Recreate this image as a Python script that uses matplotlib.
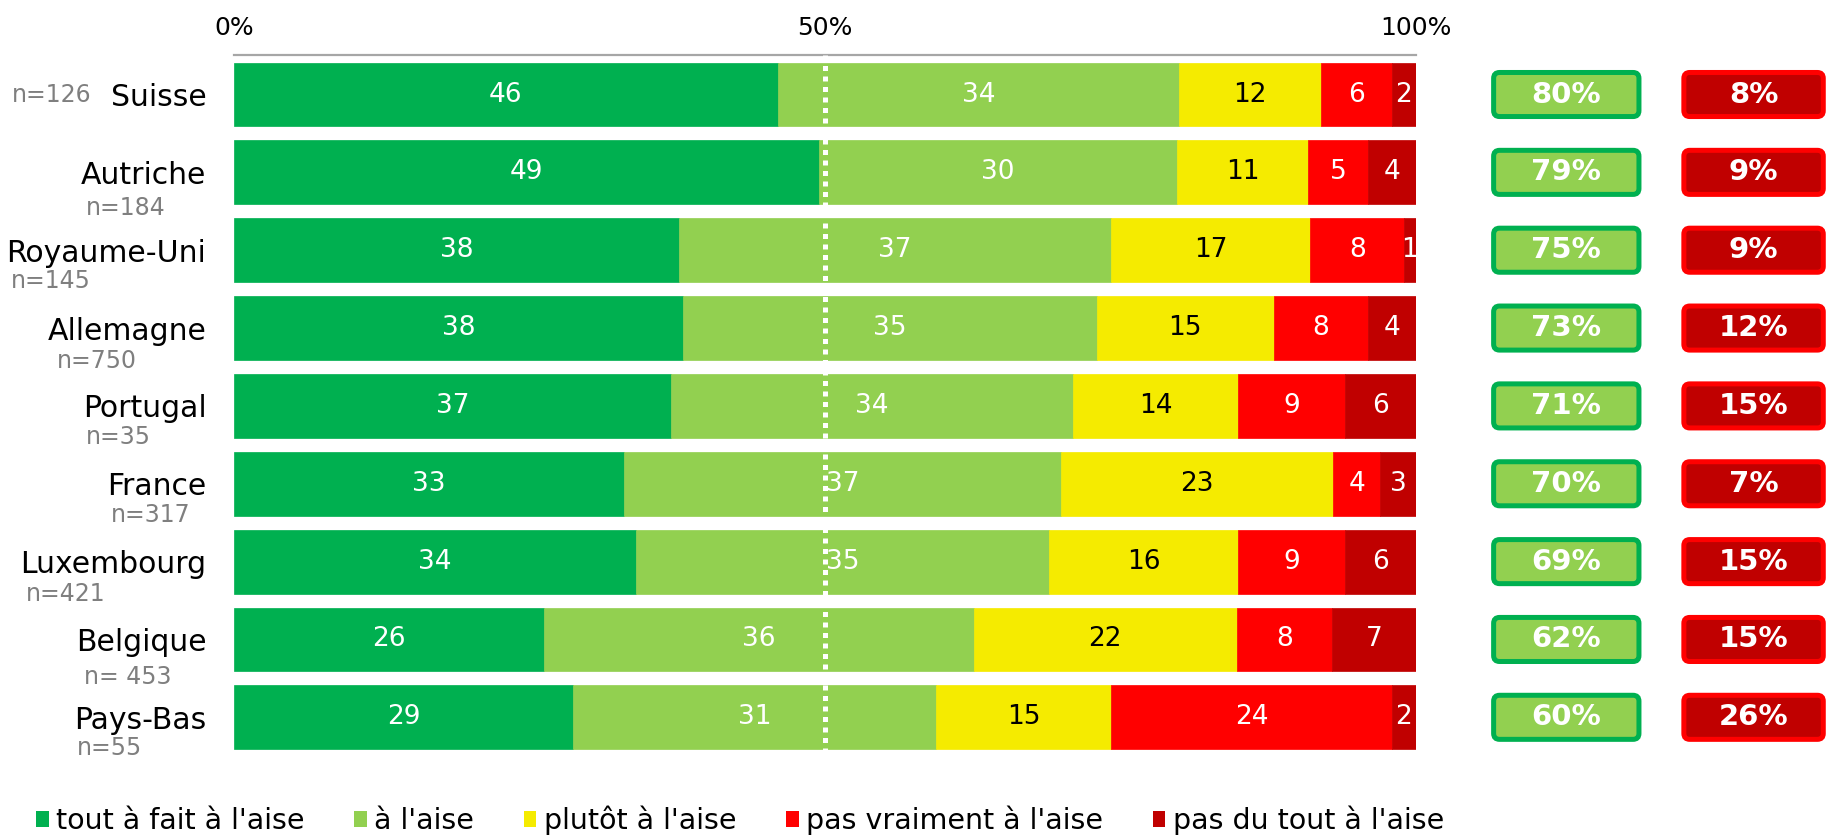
import matplotlib.pyplot as plt
from matplotlib.patches import FancyBboxPatch, Patch
from matplotlib.transforms import blended_transform_factory

plt.rcParams['font.family'] = ['DejaVu Sans Condensed', 'DejaVu Sans']

countries = ['Suisse', 'Autriche', 'Royaume-Uni', 'Allemagne', 'Portugal',
             'France', 'Luxembourg', 'Belgique', 'Pays-Bas']
sample_sizes = ['n=126', 'n=184', 'n=145', 'n=750', 'n=35',
                'n=317', 'n=421', 'n= 453', 'n=55']
categories = ["tout à fait à l'aise", "à l'aise", "plutôt à l'aise",
              "pas vraiment à l'aise", "pas du tout à l'aise"]

tout_a_fait = [46, 49, 38, 38, 37, 33, 34, 26, 29]
a_l_aise = [34, 30, 37, 35, 34, 37, 35, 36, 31]
plutot = [12, 11, 17, 15, 14, 23, 16, 22, 15]
pas_vraiment = [6, 5, 8, 8, 9, 4, 9, 8, 24]
pas_du_tout = [2, 4, 1, 4, 6, 3, 6, 7, 2]

top2 = [80, 79, 75, 73, 71, 70, 69, 62, 60]
bottom2 = [8, 9, 9, 12, 15, 7, 15, 15, 26]

colors = ['#00B050', '#92D050', '#F5EB00', '#FF0000', '#C00000']
text_colors = ['white', 'white', 'black', 'white', 'white']

# where the n= labels sit (figure x fraction, y shift in bar units)
n_x = [0.0065, 0.047, 0.006, 0.031, 0.047, 0.0605, 0.014, 0.046, 0.042]
n_dy = [0.0, 0.46, 0.40, 0.42, 0.40, 0.40, 0.42, 0.48, 0.40]

series = [tout_a_fait, a_l_aise, plutot, pas_vraiment, pas_du_tout]

fig = plt.figure(figsize=(18.29, 8.38), dpi=100)
ax = fig.add_axes([0.128, 0.105, 0.646, 0.8296])

y = list(range(len(countries)))
totals = [sum(s[i] for s in series) for i in y]
left = [0.0] * len(countries)
for vals, col, tcol in zip(series, colors, text_colors):
    widths = [v / t * 100 for v, t in zip(vals, totals)]
    ax.barh(y, widths, left=left, height=0.82, color=col, edgecolor=col, lw=0.5)
    for i in y:
        ax.text(left[i] + widths[i] / 2, i, str(vals[i]), ha='center', va='center',
                color=tcol, fontsize=19)
    left = [l + w for l, w in zip(left, widths)]

ax.set_xlim(0, 100)
ax.set_ylim(8.42, -0.51)
for s in ax.spines.values():
    s.set_visible(False)

ax.plot([0, 100], [-0.51, -0.51], color='#A6A6A6', lw=1.6, clip_on=False, zorder=3)
ax.plot([50, 50], [-0.51, 8.42], color='white', lw=3.6, linestyle=(0, (1, 1.1)),
        dash_capstyle='butt', clip_on=False, zorder=4)

ax.xaxis.tick_top()
ax.set_xticks([0, 50, 100], ['0%', '50%', '100%'])
ax.tick_params(axis='x', length=0, pad=11, labelsize=18)
ax.set_yticks(y, countries)
ax.tick_params(axis='y', length=0, pad=20, labelsize=21.5)

trans = blended_transform_factory(fig.transFigure, ax.transData)
for i in y:
    ax.text(n_x[i], i + n_dy[i], sample_sizes[i], transform=trans, ha='left',
            va='center', color='#7F7F7F', fontsize=17)

# summary boxes on the right
asp = 0.152
for i in y:
    g = FancyBboxPatch((106.6, i - 0.283), 12.3, 0.566,
                       boxstyle='round,pad=0,rounding_size=0.5', mutation_aspect=asp,
                       fc='#92D050', ec='#00B050', lw=3.6, clip_on=False)
    r = FancyBboxPatch((122.7, i - 0.283), 11.8, 0.566,
                       boxstyle='round,pad=0,rounding_size=0.5', mutation_aspect=asp,
                       fc='#C00000', ec='#FF0000', lw=3.6, clip_on=False)
    ax.add_patch(g)
    ax.add_patch(r)
    ax.text(112.75, i, f'{top2[i]}%', ha='center', va='center', color='white',
            fontsize=21, fontweight='bold', clip_on=False)
    ax.text(128.6, i, f'{bottom2[i]}%', ha='center', va='center', color='white',
            fontsize=21, fontweight='bold', clip_on=False)

handles = [Patch(facecolor=c) for c in colors]
fig.legend(handles, categories, loc='lower left', bbox_to_anchor=(0.018, 0.0),
           ncol=5, frameon=False, fontsize=20.5, handlelength=0.45, handleheight=0.45,
           handletextpad=0.25, columnspacing=1.75, borderaxespad=0, borderpad=0.1)

fig.savefig('out.png', dpi=100)
